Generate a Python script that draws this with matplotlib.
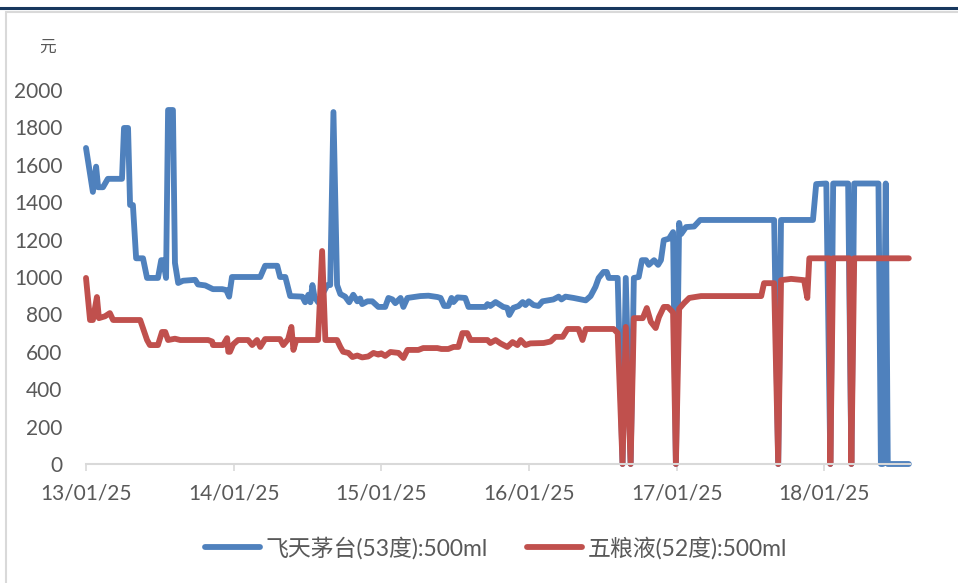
import pandas as pd
import matplotlib
matplotlib.use("Agg")
import matplotlib.pyplot as plt
from matplotlib.lines import Line2D
from matplotlib.patches import Rectangle

plt.rcParams['font.family'] = ['Lato', 'Noto Sans CJK SC', 'DejaVu Sans']

# 飞天茅台(53度):500ml
mt_dates = ["2013-01-25", "2013-02-11", "2013-02-19", "2013-02-24", "2013-03-08", "2013-03-20",
            "2013-04-24", "2013-04-29", "2013-05-09", "2013-05-14", "2013-05-21", "2013-05-29",
            "2013-06-15", "2013-06-25", "2013-07-22", "2013-07-30", "2013-08-04", "2013-08-11",
            "2013-08-16", "2013-08-28", "2013-09-02", "2013-09-10", "2013-09-22", "2013-10-22",
            "2013-10-29", "2013-11-16", "2013-12-05", "2013-12-28", "2014-01-07", "2014-01-14",
            "2014-01-21", "2014-04-01", "2014-04-13", "2014-05-13", "2014-05-20", "2014-06-02",
            "2014-06-14", "2014-07-14", "2014-07-21", "2014-07-29", "2014-08-03", "2014-08-08",
            "2014-08-13", "2014-08-22", "2014-09-14", "2014-09-21", "2014-09-29", "2014-10-08",
            "2014-10-16", "2014-10-28", "2014-11-07", "2014-11-17", "2014-11-27", "2014-12-04",
            "2014-12-09", "2014-12-22", "2015-01-03", "2015-01-18", "2015-02-04", "2015-02-12",
            "2015-02-22", "2015-03-01", "2015-03-14", "2015-03-21", "2015-03-31", "2015-05-02",
            "2015-05-22", "2015-06-13", "2015-06-21", "2015-06-30", "2015-07-10", "2015-07-18",
            "2015-07-23", "2015-08-02", "2015-08-21", "2015-08-29", "2015-10-10", "2015-10-15",
            "2015-10-22", "2015-11-04", "2015-11-16", "2015-11-23", "2015-12-03", "2015-12-08",
            "2015-12-18", "2015-12-31", "2016-01-10", "2016-01-17", "2016-01-25", "2016-02-06",
            "2016-02-18", "2016-02-28", "2016-03-26", "2016-04-08", "2016-04-15", "2016-04-25",
            "2016-05-15", "2016-06-14", "2016-06-26", "2016-07-08", "2016-07-16", "2016-07-28",
            "2016-08-05", "2016-08-10", "2016-09-01", "2016-09-13", "2016-09-21", "2016-10-03",
            "2016-10-11", "2016-10-23", "2016-10-31", "2016-11-10", "2016-11-17", "2016-11-30",
            "2016-12-10", "2016-12-17", "2016-12-24", "2017-01-06", "2017-01-16", "2017-01-23",
            "2017-01-31", "2017-02-05", "2017-02-17", "2017-03-09", "2017-03-24", "2017-09-23",
            "2017-10-03", "2017-10-10", "2017-12-28", "2018-01-05", "2018-01-30", "2018-02-09",
            "2018-02-16", "2018-03-25", "2018-04-02", "2018-04-09", "2018-06-08", "2018-06-14",
            "2018-06-19", "2018-06-26", "2018-07-01", "2018-08-22"]
mt_price = [1690, 1455, 1590, 1480, 1480, 1525,
            1525, 1797, 1797, 1385, 1385, 1100,
            1100, 995, 995, 1090, 1090, 995,
            1893, 1893, 1075, 968, 980, 985,
            960, 955, 935, 935, 930, 895,
            1000, 1000, 1060, 1060, 1000, 1000,
            898, 895, 865, 905, 865, 957,
            895, 865, 957, 957, 1882, 957,
            909, 895, 865, 905, 870, 885,
            855, 870, 870, 840, 840, 888,
            880, 860, 888, 840, 888, 898,
            900, 893, 888, 845, 845, 888,
            866, 891, 888, 840, 840, 855,
            845, 866, 850, 840, 835, 797,
            835, 845, 866, 850, 870, 850,
            845, 870, 880, 895, 880, 895,
            888, 875, 898, 947, 995, 1027,
            1027, 995, 995, 0, 995, 0,
            995, 1000, 1090, 1090, 1065, 1090,
            1065, 1090, 1197, 1205, 1240, 0,
            1289, 1230, 1267, 1270, 1305, 1305,
            0, 1305, 1305, 1497, 1500, 0,
            1500, 1500, 0, 1500, 1500, 0,
            0, 1500, 0, 0]

# 五粮液(52度):500ml
wly_dates = ["2013-01-25", "2013-02-04", "2013-02-11", "2013-02-21", "2013-02-26", "2013-03-13",
             "2013-03-25", "2013-04-02", "2013-06-08", "2013-06-25", "2013-07-02", "2013-07-22",
             "2013-08-01", "2013-08-09", "2013-08-16", "2013-09-02", "2013-09-15", "2013-11-23",
             "2013-12-03", "2013-12-05", "2013-12-30", "2014-01-09", "2014-01-12", "2014-01-16",
             "2014-01-24", "2014-02-05", "2014-03-02", "2014-03-12", "2014-03-24", "2014-04-01",
             "2014-04-13", "2014-05-20", "2014-05-28", "2014-06-09", "2014-06-17", "2014-06-22",
             "2014-06-29", "2014-08-22", "2014-09-01", "2014-09-09", "2014-10-08", "2014-10-16",
             "2014-10-23", "2014-11-05", "2014-11-15", "2014-11-27", "2014-12-09", "2014-12-24",
             "2015-01-06", "2015-01-18", "2015-01-25", "2015-02-04", "2015-02-17", "2015-03-09",
             "2015-03-21", "2015-03-31", "2015-04-27", "2015-05-09", "2015-06-13", "2015-06-23",
             "2015-07-10", "2015-07-23", "2015-08-04", "2015-08-14", "2015-08-26", "2015-09-03",
             "2015-10-15", "2015-10-22", "2015-11-04", "2015-11-16", "2015-12-03", "2015-12-16",
             "2015-12-28", "2016-01-05", "2016-01-17", "2016-01-29", "2016-03-02", "2016-03-19",
             "2016-03-31", "2016-04-18", "2016-04-30", "2016-05-27", "2016-06-06", "2016-06-14",
             "2016-08-22", "2016-09-01", "2016-09-13", "2016-09-21", "2016-10-03", "2016-10-11",
             "2016-11-02", "2016-11-12", "2016-11-22", "2016-12-04", "2016-12-12", "2016-12-24",
             "2017-01-03", "2017-01-16", "2017-01-23", "2017-01-31", "2017-02-12", "2017-02-25",
             "2017-03-26", "2017-08-22", "2017-08-29", "2017-09-23", "2017-10-03", "2017-10-10",
             "2017-11-04", "2017-12-06", "2017-12-14", "2017-12-19", "2018-02-06", "2018-02-09",
             "2018-02-16", "2018-03-28", "2018-04-02", "2018-04-09", "2018-08-22"]
wly_price = [995, 770, 770, 893, 780, 790,
             807, 770, 770, 663, 636, 636,
             706, 706, 663, 670, 663, 663,
             655, 636, 636, 673, 600, 600,
             640, 663, 663, 636, 663, 626,
             668, 668, 636, 668, 733, 610,
             663, 663, 1139, 663, 663, 626,
             600, 594, 572, 580, 570, 575,
             594, 585, 592, 578, 599, 594,
             567, 610, 610, 620, 620, 615,
             615, 626, 626, 700, 700, 663,
             663, 647, 663, 645, 626, 652,
             636, 663, 636, 645, 647, 655,
             680, 680, 722, 722, 663, 722,
             722, 700, 0, 733, 0, 780,
             780, 834, 760, 727, 785, 840,
             840, 810, 0, 830, 860, 888,
             898, 898, 967, 967, 0, 983,
             990, 983, 888, 1100, 1100, 0,
             1100, 1100, 0, 1100, 1100]

tick_dates = ["2013-01-25", "2014-01-25", "2015-01-25", "2016-01-25", "2017-01-25", "2018-01-25"]
tick_labels = ["13/01/25", "14/01/25", "15/01/25", "16/01/25", "17/01/25", "18/01/25"]

W, H = 958, 583
fig = plt.figure(figsize=(W / 100, H / 100), dpi=100)

# outer decorations
fig.add_artist(Line2D([0, 1], [1 - 8 / H] * 2, transform=fig.transFigure,
                      color='#17375E', lw=2.2))
fig.add_artist(Rectangle((6 / W, -0.1), 1.2, 1 - 12.5 / H + 0.1, transform=fig.transFigure,
                         fill=False, edgecolor='#D9D9D9', lw=1.5))

ax = fig.add_axes([86 / W, 1 - 464 / H, (910 - 86) / W, (464 - 90) / H])

ax.plot(pd.to_datetime(mt_dates), mt_price, color='#4F81BD', lw=4.2,
        solid_joinstyle='round', solid_capstyle='round', clip_on=False,
        label='飞天茅台(53度):500ml')
ax.plot(pd.to_datetime(wly_dates), wly_price, color='#C0504D', lw=4.2,
        solid_joinstyle='round', solid_capstyle='round', clip_on=False,
        label='五粮液(52度):500ml')

ax.set_ylim(0, 2000)
ax.set_yticks(range(0, 2001, 200))
ax.set_xlim(pd.Timestamp("2013-01-25"), pd.Timestamp("2018-08-25"))
ax.set_xticks(pd.to_datetime(tick_dates))
ax.set_xticklabels(tick_labels)

for s in ['top', 'right', 'left']:
    ax.spines[s].set_visible(False)
ax.spines['bottom'].set_color('#D9D9D9')
ax.spines['bottom'].set_linewidth(1.5)

ax.tick_params(axis='y', length=0, pad=17, labelsize=15, labelcolor='#595959')
ax.tick_params(axis='x', length=5, width=1.2, color='#D9D9D9', pad=9,
               labelsize=15, labelcolor='#595959')

fig.text(47 / W, 1 - 47 / H, '元', fontsize=12, color='#595959', ha='center', va='center')

fig.legend(loc='center', bbox_to_anchor=(496 / W, 1 - 548 / H), ncol=2, frameon=False,
           fontsize=16.5, labelcolor='#595959', handlelength=2.4, handletextpad=0.25,
           columnspacing=1.7)

fig.savefig('out.png', dpi=100)
